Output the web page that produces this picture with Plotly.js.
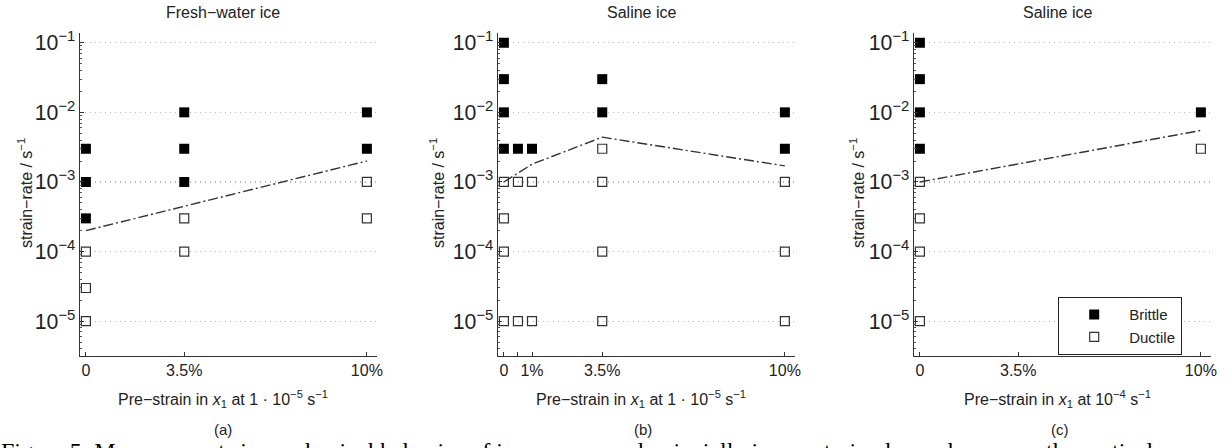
<!DOCTYPE html>
<html>
<head>
<meta charset="utf-8">
<script src="https://cdn.plot.ly/plotly-3.0.1.min.js"></script>
<style>html,body{margin:0;padding:0;background:#fff}#chart{width:1231px;height:448px}</style>
</head>
<body>
<div id="chart"></div>
<script>
// Panel (a): fresh-water ice, pre-strain at 1e-5 s^-1
const aBrittleX = [0, 0, 0, 3.5, 3.5, 3.5, 10, 10];
const aBrittleY = [3e-3, 1e-3, 3e-4, 1e-2, 3e-3, 1e-3, 1e-2, 3e-3];
const aDuctileX = [0, 0, 0, 3.5, 3.5, 10, 10];
const aDuctileY = [1e-4, 3e-5, 1e-5, 3e-4, 1e-4, 1e-3, 3e-4];
const aLineX = [0, 10];
const aLineY = [2e-4, 2e-3];

// Panel (b): saline ice, pre-strain at 1e-5 s^-1
const bBrittleX = [0, 0, 0, 0, 0.5, 1, 3.5, 3.5, 10, 10];
const bBrittleY = [1e-1, 3e-2, 1e-2, 3e-3, 3e-3, 3e-3, 3e-2, 1e-2, 1e-2, 3e-3];
const bDuctileX = [0, 0, 0, 0, 0.5, 0.5, 1, 1, 3.5, 3.5, 3.5, 3.5, 10, 10, 10];
const bDuctileY = [1e-3, 3e-4, 1e-4, 1e-5, 1e-3, 1e-5, 1e-3, 1e-5, 3e-3, 1e-3, 1e-4, 1e-5, 1e-3, 1e-4, 1e-5];
const bLineX = [0, 1, 3.5, 10];
const bLineY = [1e-3, 1.8e-3, 4.4e-3, 1.7e-3];

// Panel (c): saline ice, pre-strain at 1e-4 s^-1
const cBrittleX = [0, 0, 0, 0, 10];
const cBrittleY = [1e-1, 3e-2, 1e-2, 3e-3, 1e-2];
const cDuctileX = [0, 0, 0, 0, 10];
const cDuctileY = [1e-3, 3e-4, 1e-4, 1e-5, 3e-3];
const cLineX = [0, 10];
const cLineY = [1e-3, 5.5e-3];

// Tick labels
const xTickValsA = [0, 3.5, 10];
const xTickTextA = ['0', '3.5%', '10%'];
const xTickValsB = [0, 0.5, 1, 3.5, 10];
const xTickTextB = ['0', '', '1%', '3.5%', '10%'];
const xTickValsC = [0, 3.5, 10];
const xTickTextC = ['0', '3.5%', '10%'];

const panelTitles = ['Fresh\u2212water ice', 'Saline ice', 'Saline ice'];
const xTitles = [
  'Pre\u2212strain in <i>x</i><sub>1</sub> at 1 \u00b7 10<sup>\u22125</sup> s<sup>\u22121</sup>',
  'Pre\u2212strain in <i>x</i><sub>1</sub> at 1 \u00b7 10<sup>\u22125</sup> s<sup>\u22121</sup>',
  'Pre\u2212strain in <i>x</i><sub>1</sub> at 10<sup>\u22124</sup> s<sup>\u22121</sup>'
];
const panelLabels = ['(a)', '(b)', '(c)'];
const yTitle = 'strain\u2212rate / s<sup>\u22121</sup>';
const caption = 'Figure 5: Measurements in mechanical behavior of ice compressed uniaxially in pre-strained samples across the vertical';

const W = 1231, H = 448;
const FONT = '"Liberation Sans", Arial, Helvetica, sans-serif';
const brittleMarker = {symbol: 'square', size: 10, color: '#000'};
const ductileMarker = {symbol: 'square-open', size: 9, color: '#333', line: {width: 1.2}};
const lineStyle = {color: '#333', width: 1.4, dash: '10px,3px,2px,3px'};

function panel(n, bx, by, dx, dy, lx, ly, legend) {
  const xa = n === 1 ? 'x' : 'x' + n, ya = n === 1 ? 'y' : 'y' + n;
  return [
    {x: lx, y: ly, xaxis: xa, yaxis: ya, mode: 'lines', line: lineStyle, showlegend: false, hoverinfo: 'skip'},
    {x: dx, y: dy, xaxis: xa, yaxis: ya, mode: 'markers', marker: ductileMarker, name: 'Ductile', showlegend: legend},
    {x: bx, y: by, xaxis: xa, yaxis: ya, mode: 'markers', marker: brittleMarker, name: 'Brittle', showlegend: legend}
  ];
}

const data = [].concat(
  panel(1, aBrittleX, aBrittleY, aDuctileX, aDuctileY, aLineX, aLineY, false),
  panel(2, bBrittleX, bBrittleY, bDuctileX, bDuctileY, bLineX, bLineY, false),
  panel(3, cBrittleX, cBrittleY, cDuctileX, cDuctileY, cLineX, cLineY, true)
);

const px = [[80, 377], [498, 795], [914, 1211]];
const yDom = [1 - 356 / H, 1 - 33 / H];

function xAxis(i, vals, text) {
  return {
    domain: [px[i][0] / W, px[i][1] / W], range: [-0.21, 10.36],
    anchor: i === 0 ? 'y' : 'y' + (i + 1),
    tickmode: 'array', tickvals: vals, ticktext: text,
    ticks: 'inside', ticklen: 4, tickcolor: '#333', tickwidth: 1,
    showline: true, linecolor: '#333', linewidth: 1.2,
    showgrid: false, zeroline: false,
    tickfont: {family: FONT, size: 16, color: '#222'}
  };
}
function yAxis(i) {
  return {
    type: 'log', domain: yDom, range: [-5.5, -0.86],
    anchor: i === 0 ? 'x' : 'x' + (i + 1),
    dtick: 1, tick0: 0, exponentformat: 'power',
    ticks: 'inside', ticklen: 4, tickcolor: '#333',
    minor: {ticks: 'inside', ticklen: 2, dtick: 'D1', tickcolor: '#555', showgrid: false},
    showline: true, linecolor: '#333', linewidth: 1.2,
    showgrid: true, gridcolor: '#b8b8b8', griddash: '1px,4px', gridwidth: 1.3,
    zeroline: false,
    tickfont: {family: FONT, size: 17, color: '#222'}
  };
}

const ann = [];
const titleX = [223, 641, 1057];
const xTitleX = [223, 641, 1057];
const labelX = [223, 643, 1060];
const yTitleX = [25, 437, 857];
for (let i = 0; i < 3; i++) {
  ann.push({xref: 'paper', yref: 'paper', x: titleX[i] / W, y: 1 - 13 / H, text: panelTitles[i],
    showarrow: false, xanchor: 'center', yanchor: 'middle', font: {family: FONT, size: 16, color: '#222'}});
  ann.push({xref: 'paper', yref: 'paper', x: xTitleX[i] / W, y: 1 - 399 / H, text: xTitles[i],
    showarrow: false, xanchor: 'center', yanchor: 'middle', font: {family: FONT, size: 16, color: '#222'}});
  ann.push({xref: 'paper', yref: 'paper', x: labelX[i] / W, y: 1 - 429 / H, text: panelLabels[i],
    showarrow: false, xanchor: 'center', yanchor: 'middle', font: {family: FONT, size: 15, color: '#222'}});
  ann.push({xref: 'paper', yref: 'paper', x: yTitleX[i] / W, y: 1 - 193 / H, text: yTitle, textangle: -90,
    showarrow: false, xanchor: 'center', yanchor: 'middle', font: {family: FONT, size: 16, color: '#222'}});
}
ann.push({xref: 'paper', yref: 'paper', x: 0, y: 1 - 437 / H, text: caption,
  showarrow: false, xanchor: 'left', yanchor: 'top', borderpad: 0,
  font: {family: '"Liberation Serif", "Times New Roman", serif', size: 24, color: '#000'}});

const layout = {
  width: W, height: H,
  margin: {l: 0, r: 0, t: 0, b: 0},
  paper_bgcolor: '#fff', plot_bgcolor: '#fff',
  showlegend: true,
  legend: {x: 1058 / W, y: 1 - 297 / H, xanchor: 'left', yanchor: 'top',
    bgcolor: '#fff', bordercolor: '#222', borderwidth: 1.2, traceorder: 'reversed',
    font: {family: FONT, size: 15, color: '#222'}, itemwidth: 60},
  xaxis: xAxis(0, xTickValsA, xTickTextA), yaxis: yAxis(0),
  xaxis2: xAxis(1, xTickValsB, xTickTextB), yaxis2: yAxis(1),
  xaxis3: xAxis(2, xTickValsC, xTickTextC), yaxis3: yAxis(2),
  annotations: ann
};

Plotly.newPlot('chart', data, layout, {staticPlot: true, displayModeBar: false});
</script>
</body>
</html>
